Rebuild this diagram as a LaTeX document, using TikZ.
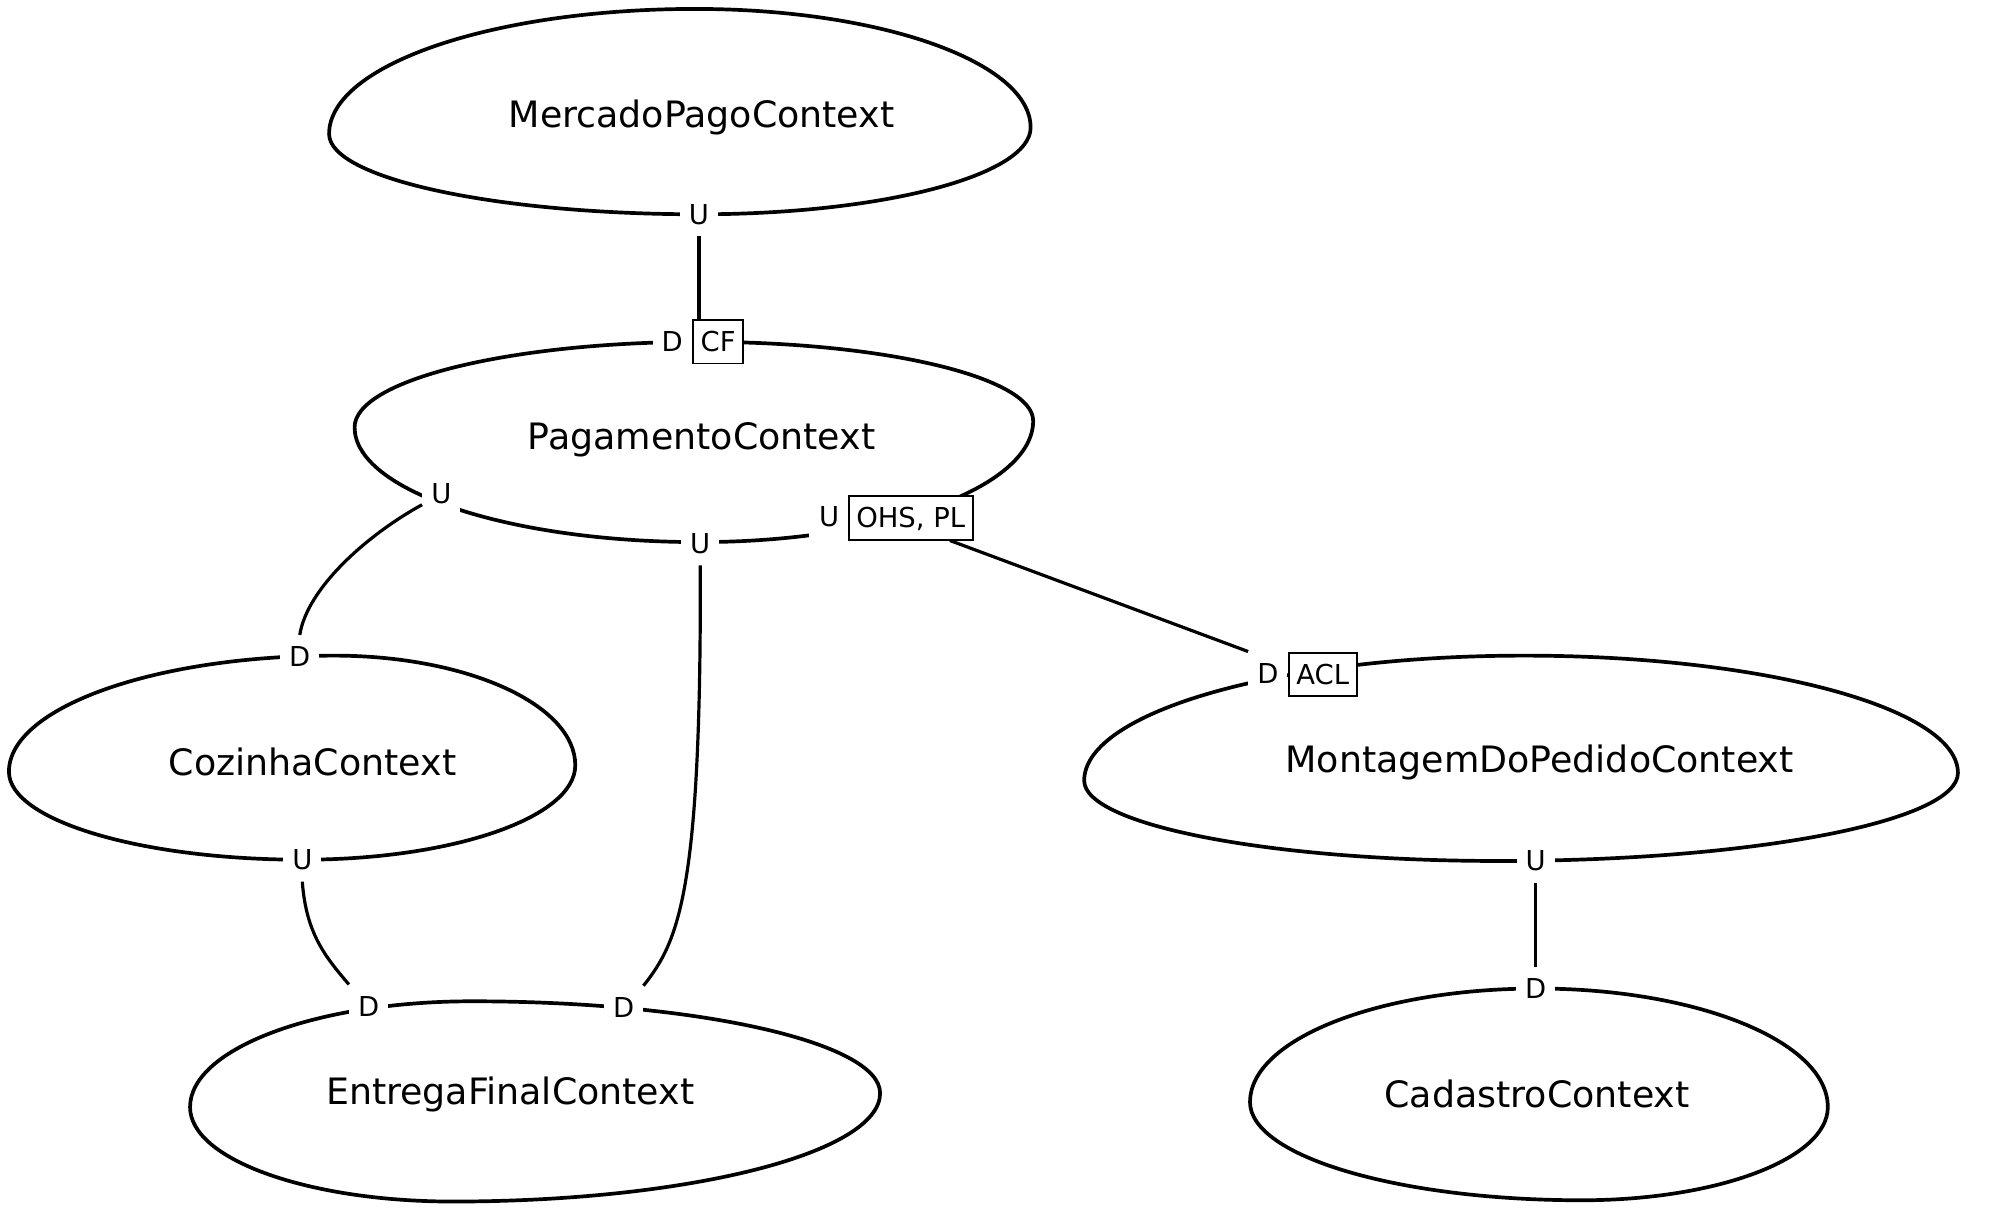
\documentclass[tikz,border=0pt]{standalone}
\usepackage{fontspec}
\setmainfont{DejaVu Sans}
% egg-shaped outline through left, top, right and bottom extreme points
\newcommand{\eggpath}[8]{%
  \draw[blob] (#1,#2)
    .. controls (#1,{#2-0.552*(#2-#4)}) and ({#3-0.552*(#3-#1)},#4) .. (#3,#4)
    .. controls ({#3+0.552*(#5-#3)},#4) and (#5,{#6-0.552*(#6-#4)}) .. (#5,#6)
    .. controls (#5,{#6+0.552*(#8-#6)}) and ({#7+0.552*(#5-#7)},#8) .. (#7,#8)
    .. controls ({#7-0.552*(#7-#1)},#8) and (#1,{#2+0.552*(#8-#2)}) .. cycle;}
\begin{document}
\begin{tikzpicture}[x=1pt,y=-1pt,
  blob/.style={line width=2.9pt, line join=round},
  conn/.style={line width=2.5pt},
  ctx/.style={font=\fontsize{28.5}{34}\selectfont, inner sep=0pt},
  lab/.style={font=\fontsize{21.5}{26}\selectfont, fill=white, inner xsep=7pt, inner ysep=0pt, minimum height=34pt, text height=15.7pt, text depth=0pt},
  tagbox/.style={lab, draw, line width=1.5pt, inner xsep=6pt}]
\useasboundingbox (0,0) rectangle (1568,953);

% context blobs
\eggpath{258}{105}{545}{7}{808}{100}{548}{168}
\eggpath{278}{335}{550}{268}{810}{330}{548}{425}
\eggpath{7}{605}{262}{514}{451}{600}{237}{674}
\eggpath{850}{612}{1195}{514}{1535}{606}{1175}{675}
\eggpath{149}{868}{370}{785}{690}{857}{355}{942}
\eggpath{980}{864}{1205}{775}{1433}{868}{1240}{941}

% context names
\node[ctx] (mp) at (550,92) {MercadoPagoContext};
\node[ctx] (pg) at (550,345) {PagamentoContext};
\node[ctx] (cz) at (245,597) {CozinhaContext};
\node[ctx] (mt) at (1207,598) {MontagemDoPedidoContext};
\node[ctx] (ef) at (400,858) {EntregaFinalContext};
\node[ctx] (ca) at (1205,858) {CadastroContext};

% end labels
\node[lab] (mpU) at (548,168) {U};
\node[lab] (pgD) at (527,268) {D};
\node[tagbox] (pgCF) at (563,268) {CF};
\node[lab] (pgU1) at (346,387) {U};
\node[lab] (pgU2) at (549,426) {U};
\node[lab, minimum width=31pt] (pgU3) at (650,405) {U};
\node[tagbox] (ohs) at (714,406) {OHS, PL};
\node[lab] (czD) at (235,515) {D};
\node[lab] (czU) at (237,674) {U};
\node[lab] (mtD) at (994,528) {D};
\node[tagbox] (acl) at (1037,529) {ACL};
\node[lab] (mtU) at (1204,675) {U};
\node[lab] (efD1) at (289,789) {D};
\node[lab] (efD2) at (489,790) {D};
\node[lab] (caD) at (1204,775) {D};

% connectors
\draw[conn] (mpU.south) -- (mpU.south |- pgCF.north);
\draw[conn] (pgU1.-150) .. controls (290,418) and (241,460) .. (czD.north);
\draw[conn] (pgU2.south) .. controls (550,700) and (532,738) .. (efD2.north east);
\draw[conn] (ohs.-30) -- (mtD.north west);
\draw[conn] (czU.south) .. controls (240,732) and (255,750) .. (efD1.north west);
\draw[conn] (mtU.south) -- (caD.north);
\end{tikzpicture}
\end{document}
